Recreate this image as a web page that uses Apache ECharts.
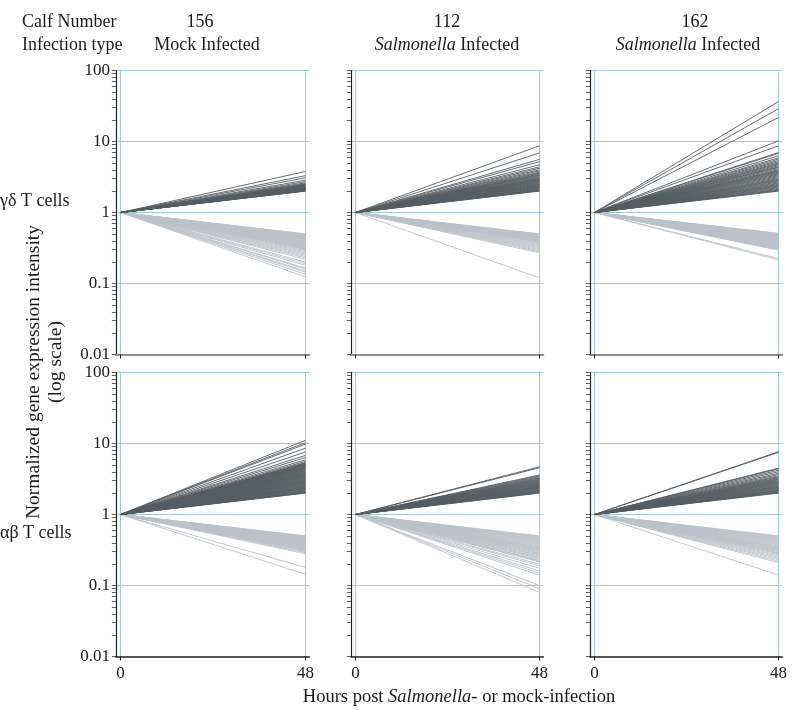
<!DOCTYPE html>
<html><head><meta charset="utf-8">
<script src="https://cdn.jsdelivr.net/npm/echarts@6/dist/echarts.min.js"></script>
<style>html,body{margin:0;padding:0;background:#fff}#c{width:800px;height:710px}</style>
</head><body><div id="c"></div>
<script>
// ---- data ----
const calfNumbers = ['156', '112', '162'];
const infectionTypes = ['Mock', 'Salmonella', 'Salmonella'];
const cellTypes = ['γδ T cells', 'αβ T cells'];
const hours = [0, 48];
const baseline = 1;
const yTickLabels = [0.01, 0.1, 1, 10, 100];
const gridValues = [0.1, 1, 10, 100];

// endpoint (48 h) normalized intensities, up-regulated (dark) and down-regulated (light)
const gd156Up = [3.78, 3.3, 3.08, 2.85, 2.72, 2.62, 2.55, 2.5, 2.46, 2.43, 2.4, 2.37, 2.34, 2.31, 2.28, 2.26, 2.24, 2.22, 2.2, 2.18, 2.16, 2.14, 2.12, 2.1, 2.08, 2.06, 2.05, 2.04, 2.03, 2.02, 2.01, 2.0];
const gd156Down = [0.5, 0.495, 0.49, 0.485, 0.48, 0.474, 0.47, 0.464, 0.46, 0.455, 0.45, 0.444, 0.44, 0.435, 0.43, 0.424, 0.42, 0.415, 0.41, 0.404, 0.4, 0.394, 0.39, 0.385, 0.38, 0.374, 0.37, 0.365, 0.36, 0.354, 0.35, 0.345, 0.34, 0.334, 0.33, 0.325, 0.32, 0.314, 0.31, 0.305, 0.3, 0.29, 0.28, 0.27, 0.26, 0.25, 0.24, 0.23, 0.22, 0.2, 0.19, 0.18, 0.165, 0.16, 0.15, 0.144, 0.135, 0.124];
const gd112Up = [8.7, 6.9, 5.6, 5.2, 4.7, 4.4, 4.2, 4.0, 3.85, 3.7, 3.6, 3.5, 3.42, 3.35, 3.28, 3.2, 3.12, 3.05, 3.0, 2.95, 2.9, 2.84, 2.8, 2.75, 2.7, 2.65, 2.6, 2.55, 2.5, 2.46, 2.42, 2.38, 2.34, 2.3, 2.26, 2.22, 2.18, 2.14, 2.1, 2.07, 2.04, 2.02, 2.0];
const gd112Down = [0.5, 0.495, 0.49, 0.484, 0.48, 0.474, 0.47, 0.464, 0.46, 0.454, 0.45, 0.444, 0.44, 0.434, 0.43, 0.424, 0.42, 0.414, 0.41, 0.404, 0.4, 0.394, 0.39, 0.384, 0.38, 0.37, 0.36, 0.35, 0.34, 0.33, 0.32, 0.31, 0.3, 0.29, 0.28, 0.27, 0.12];
const gd162Up = [36.5, 29, 21.8, 10.2, 8.7, 7.0, 6.8, 6.3, 5.9, 5.65, 5.4, 5.2, 5.0, 4.85, 4.7, 4.55, 4.4, 4.3, 4.15, 4.0, 3.9, 3.8, 3.7, 3.6, 3.5, 3.4, 3.3, 3.2, 3.1, 3.0, 2.92, 2.85, 2.78, 2.7, 2.62, 2.55, 2.48, 2.42, 2.36, 2.3, 2.24, 2.18, 2.12, 2.07, 2.03, 2.0];
const gd162Down = [0.51, 0.505, 0.5, 0.494, 0.49, 0.484, 0.48, 0.474, 0.47, 0.464, 0.46, 0.454, 0.45, 0.444, 0.44, 0.434, 0.43, 0.424, 0.42, 0.414, 0.41, 0.404, 0.4, 0.394, 0.39, 0.384, 0.38, 0.374, 0.37, 0.364, 0.36, 0.354, 0.35, 0.344, 0.34, 0.334, 0.33, 0.324, 0.32, 0.314, 0.31, 0.304, 0.3, 0.295, 0.225, 0.215];
const ab156Up = [11.1, 10.3, 9.8, 8.6, 7.6, 6.8, 6.35, 5.9, 5.6, 5.4, 5.3, 5.2, 5.12, 5.05, 4.98, 4.9, 4.82, 4.75, 4.68, 4.6, 4.52, 4.45, 4.38, 4.3, 4.22, 4.15, 4.08, 4.0, 3.93, 3.86, 3.8, 3.73, 3.66, 3.6, 3.54, 3.48, 3.42, 3.36, 3.3, 3.24, 3.18, 3.12, 3.06, 3.0, 2.95, 2.9, 2.85, 2.8, 2.75, 2.7, 2.65, 2.6, 2.55, 2.5, 2.46, 2.42, 2.38, 2.34, 2.3, 2.26, 2.22, 2.18, 2.14, 2.1, 2.07, 2.04, 2.02, 2.0];
const ab156Down = [0.5, 0.494, 0.49, 0.484, 0.48, 0.474, 0.47, 0.464, 0.46, 0.454, 0.45, 0.444, 0.44, 0.434, 0.43, 0.424, 0.42, 0.414, 0.41, 0.404, 0.4, 0.394, 0.39, 0.384, 0.38, 0.374, 0.37, 0.364, 0.36, 0.354, 0.35, 0.344, 0.34, 0.334, 0.33, 0.324, 0.32, 0.314, 0.31, 0.304, 0.3, 0.29, 0.28, 0.18, 0.144];
const ab112Up = [4.7, 4.55, 3.6, 3.5, 3.4, 3.3, 3.22, 3.15, 3.08, 3.02, 2.96, 2.9, 2.84, 2.78, 2.73, 2.68, 2.63, 2.58, 2.53, 2.48, 2.44, 2.4, 2.36, 2.32, 2.28, 2.24, 2.2, 2.16, 2.12, 2.08, 2.05, 2.02, 2.0];
const ab112Down = [0.5, 0.49, 0.48, 0.47, 0.46, 0.45, 0.44, 0.43, 0.42, 0.41, 0.4, 0.39, 0.38, 0.37, 0.36, 0.35, 0.345, 0.34, 0.33, 0.325, 0.32, 0.31, 0.305, 0.3, 0.29, 0.285, 0.28, 0.27, 0.265, 0.26, 0.25, 0.245, 0.24, 0.23, 0.225, 0.22, 0.215, 0.2, 0.19, 0.175, 0.16, 0.15, 0.14, 0.1, 0.09, 0.08];
const ab162Up = [7.65, 7.5, 4.5, 4.4, 4.2, 4.0, 3.8, 3.65, 3.5, 3.4, 3.3, 3.22, 3.15, 3.08, 3.0, 2.94, 2.88, 2.82, 2.76, 2.7, 2.64, 2.58, 2.52, 2.47, 2.42, 2.37, 2.32, 2.27, 2.22, 2.18, 2.14, 2.1, 2.06, 2.03, 2.0];
const ab162Down = [0.5, 0.49, 0.48, 0.47, 0.46, 0.45, 0.44, 0.43, 0.42, 0.41, 0.4, 0.39, 0.38, 0.37, 0.36, 0.35, 0.345, 0.34, 0.33, 0.325, 0.32, 0.31, 0.305, 0.3, 0.29, 0.285, 0.28, 0.27, 0.26, 0.25, 0.24, 0.23, 0.22, 0.21, 0.14];

const panelData = [
  [[gd156Up, gd156Down], [gd112Up, gd112Down], [gd162Up, gd162Down]],
  [[ab156Up, ab156Down], [ab112Up, ab112Down], [ab162Up, ab162Down]]
];

// ---- layout / style ----
const FONT = '"Liberation Serif", "Times New Roman", serif';
const DARK = '#545c62';
const LIGHT = '#bcc2c9';
const BLUE = '#a3c9d7';
const X_MIN = -1.2, X_MAX = 49;
const Y_MIN = 0.01, Y_MAX = 100;
const colLeft = [115.875, 350.9, 589.9];
const colWidth = [193.48, 192.43, 192.43];
const rowTop = [70.5, 372.5];
const rowHeight = [284, 284];

const yMinorTicks = [];
for (let e = -2; e < 2; e++) {
  for (let k = 1; k < 10; k++) yMinorTicks.push(+(k * Math.pow(10, e)).toPrecision(6));
}
yMinorTicks.push(100);

const gridLineData = hours.map(h => ({ coords: [[h, Y_MIN], [h, Y_MAX]] }))
  .concat(gridValues.map(v => ({ coords: [[X_MIN, v], [X_MAX, v]] })));

const grids = [], xAxes = [], yAxes = [], series = [];
let idx = 0;
for (let r = 0; r < 2; r++) {
  for (let c = 0; c < 3; c++) {
    grids.push({ left: colLeft[c], top: rowTop[r], width: colWidth[c], height: rowHeight[r], containLabel: false });
    xAxes.push({
      type: 'value', gridIndex: idx, min: X_MIN, max: X_MAX, z: 6,
      axisLine: { show: true, onZero: false, lineStyle: { color: r === 0 ? '#8e8e8e' : '#1e1e1e', width: r === 0 ? 2 : 1.5 } },
      axisTick: { show: true, customValues: hours, length: 4, lineStyle: { color: '#222', width: 1 } },
      axisLabel: { show: r === 1, customValues: hours, margin: 9, color: '#1a1a1a', fontSize: 17, fontFamily: FONT },
      splitLine: { show: false }, splitArea: { show: false }
    });
    yAxes.push({
      type: 'log', logBase: 10, gridIndex: idx, min: Y_MIN, max: Y_MAX, z: 6,
      axisLine: { show: true, onZero: false, lineStyle: { color: '#222', width: 1.2 } },
      axisTick: { show: true, customValues: yMinorTicks, length: 4, lineStyle: { color: '#333', width: 0.8 } },
      axisLabel: { show: c === 0, customValues: yTickLabels, margin: 6, color: '#1a1a1a', fontSize: 17, fontFamily: FONT,
        formatter: v => String(parseFloat((+v).toPrecision(6))) },
      splitLine: { show: false }, splitArea: { show: false }, minorTick: { show: false }, minorSplitLine: { show: false }
    });
    // reference grid lines (light blue)
    series.push({
      type: 'lines', coordinateSystem: 'cartesian2d', xAxisIndex: idx, yAxisIndex: idx, silent: true, z: 2,
      lineStyle: { color: BLUE, width: 1, opacity: 1 },
      data: gridLineData
    });
    const [up, down] = panelData[r][c];
    series.push({
      type: 'lines', coordinateSystem: 'cartesian2d', xAxisIndex: idx, yAxisIndex: idx, silent: true, z: 3,
      lineStyle: { color: LIGHT, width: 0.9, opacity: 1 },
      data: down.map(v => ({ coords: [[hours[0], baseline], [hours[1], v]] }))
    });
    series.push({
      type: 'lines', coordinateSystem: 'cartesian2d', xAxisIndex: idx, yAxisIndex: idx, silent: true, z: 4,
      lineStyle: { color: DARK, width: 0.9, opacity: 1 },
      data: up.map(v => ({ coords: [[hours[0], baseline], [hours[1], v]] }))
    });
    idx++;
  }
}

const txt = (text, x, y, size, opts) => Object.assign({
  type: 'text', x, y,
  style: Object.assign({ text, font: size + 'px ' + FONT, fill: '#1a1a1a', textAlign: 'center', textVerticalAlign: 'middle' }, (opts && opts.style) || {})
}, opts && opts.rotation ? { rotation: opts.rotation } : {});

const mkRich = size => ({ i: { fontStyle: 'italic', fontSize: size, fontFamily: FONT, fill: '#1a1a1a' }, n: { fontSize: size, fontFamily: FONT, fill: '#1a1a1a' } });
const calfCenters = [200, 447, 695];
const infCenters = [207, 447, 688];
const graphics = [
  txt('Calf Number', 22, 22, 18, { style: { textAlign: 'left' } }),
  txt('Infection type', 22, 45, 18, { style: { textAlign: 'left' } })
];
calfNumbers.forEach((n, i) => graphics.push(txt(n, calfCenters[i], 22, 18)));
infectionTypes.forEach((t, i) => {
  const s = t === 'Mock' ? '{n|Mock Infected}' : '{i|' + t + '}{n| Infected}';
  graphics.push({ type: 'text', x: infCenters[i], y: 45, style: { text: s, rich: mkRich(18), textAlign: 'center', textVerticalAlign: 'middle' } });
});
graphics.push(txt(cellTypes[0], 0, 201, 18, { style: { textAlign: 'left' } }));
graphics.push(txt(cellTypes[1], 0, 533, 18, { style: { textAlign: 'left' } }));
graphics.push(txt('Normalized gene expression intensity', 34, 372, 19.5, { rotation: Math.PI / 2 }));
graphics.push(txt('(log scale)', 56, 362, 19.5, { rotation: Math.PI / 2 }));
graphics.push({ type: 'text', x: 459, y: 697, style: { text: '{n|Hours post }{i|Salmonella}{n|- or mock-infection}', rich: mkRich(18.5), textAlign: 'center', textVerticalAlign: 'middle' } });

const chart = echarts.init(document.getElementById('c'), null, { renderer: 'canvas' });
chart.setOption({
  backgroundColor: '#fff',
  animation: false,
  grid: grids, xAxis: xAxes, yAxis: yAxes, series,
  graphic: graphics
});
</script></body></html>
